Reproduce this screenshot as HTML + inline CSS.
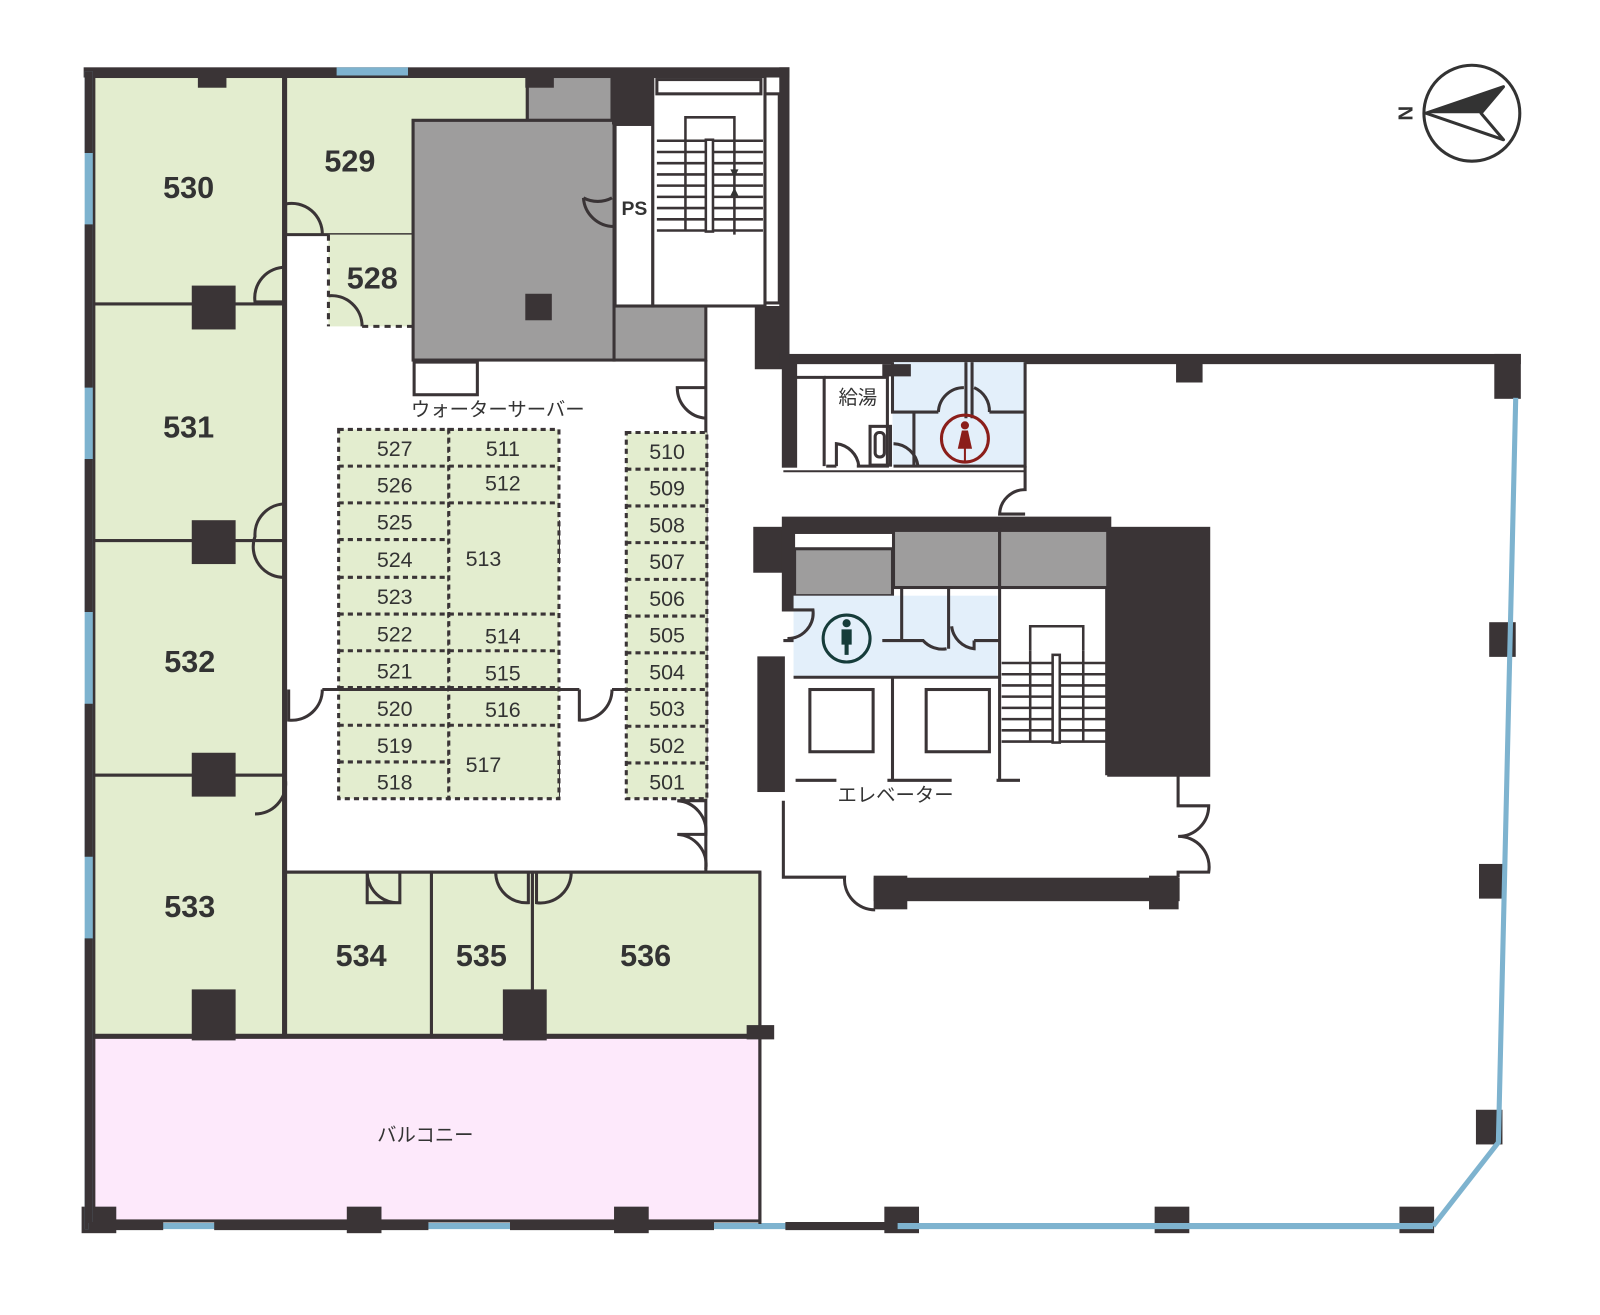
<!DOCTYPE html>
<html><head><meta charset="utf-8"><style>
html,body{margin:0;padding:0;background:#fff}
svg{display:block}
text{font-family:"Liberation Sans","Noto Sans CJK JP",sans-serif;fill:#333}
.n{font-size:30px;font-weight:bold;text-anchor:middle}
.s{font-size:21px;text-anchor:middle}
.j{font-size:19px;text-anchor:middle}
</style></head><body>
<svg width="1600" height="1315" viewBox="0 0 1600 1315" xmlns="http://www.w3.org/2000/svg">
<g transform="scale(1.02)">
<g stroke="#3a3436" stroke-width="3" fill="none">
<rect x="92" y="75" width="186" height="223" fill="#e3edcf"/>
<rect x="92" y="298" width="186" height="232" fill="#e3edcf"/>
<rect x="92" y="530" width="186" height="230" fill="#e3edcf"/>
<rect x="92" y="760" width="186" height="255" fill="#e3edcf"/>
<path d="M280 75 H517 V118 H405 V230 H280 Z" fill="#e3edcf"/>
<rect x="322" y="230" width="83" height="90" fill="#e3edcf" stroke="none"/>
<path d="M322 230 V320" stroke-dasharray="6 5"/>
<path d="M355 320 H405" stroke-dasharray="6 5"/>
<rect x="280" y="855" width="143" height="160" fill="#e3edcf"/>
<rect x="423" y="855" width="99" height="160" fill="#e3edcf"/>
<rect x="522" y="855" width="223" height="160" fill="#e3edcf"/>
<rect x="92" y="1017" width="653" height="180" fill="#fde9fb"/>
<rect x="517" y="75" width="83" height="43" fill="#9e9d9d"/>
<rect x="405" y="118" width="197" height="235" fill="#9e9d9d"/>
<rect x="602" y="300" width="90" height="53" fill="#9e9d9d"/>
<rect x="406" y="355" width="62" height="32" fill="#fff"/>
<rect x="603" y="122" width="37" height="178" fill="#fff"/>
<rect x="640" y="75" width="110" height="225" fill="#fff"/>
<rect x="644" y="78" width="102" height="14" fill="#fff"/>
<rect x="750" y="92" width="14" height="205" fill="#fff"/>
</g>
<g stroke="#3a3436" stroke-width="2.5" fill="none">
<path d="M672 138 V115 H720 V138"/>
<path d="M644 138 H748 M644 149 H748 M644 160 H748 M644 171 H748 M644 182 H748 M644 193 H748 M644 204 H748 M644 215 H748 M644 226 H748"/>
<path d="M672 138 V226 M720 138 V230"/>
<rect x="692" y="137" width="7" height="90" fill="#fff"/>
</g>
<path d="M716 166 L724 166 L720 174Z M716 192 L724 192 L720 184Z" fill="#333"/>
<g fill="#3a3436">
<rect x="600" y="72" width="40" height="50"/>
<rect x="740" y="300" width="30" height="62"/>
<rect x="82" y="66" width="692" height="10"/>
<rect x="764" y="66" width="10" height="290"/>
<rect x="764" y="347" width="727" height="10"/>
<rect x="1465" y="347" width="26" height="44"/>
<rect x="1153" y="355" width="26" height="20"/>
<rect x="194" y="72" width="28" height="14"/>
<rect x="515" y="72" width="28" height="14"/>
<rect x="188" y="280" width="43" height="43"/>
<rect x="188" y="510" width="43" height="43"/>
<rect x="188" y="738" width="43" height="43"/>
<rect x="188" y="970" width="43" height="50"/>
<rect x="493" y="970" width="43" height="50"/>
<rect x="515" y="288" width="26" height="26"/>
<rect x="505" y="510" width="44" height="43"/>
<rect x="505" y="738" width="44" height="43"/>
<rect x="732" y="1005" width="27" height="14"/>
<rect x="80" y="1183" width="34" height="26"/>
<rect x="340" y="1183" width="34" height="26"/>
<rect x="602" y="1183" width="34" height="26"/>
<rect x="867" y="1183" width="34" height="26"/>
<rect x="1132" y="1183" width="34" height="26"/>
<rect x="1372" y="1183" width="34" height="26"/>
<rect x="1460" y="610" width="26" height="34"/>
<rect x="1450" y="847" width="26" height="34"/>
<rect x="1447" y="1088" width="26" height="34"/>
</g>
<g stroke-width="8" fill="none">
<path d="M87 70 V1205" stroke="#7eb3cf"/>
<path d="M87 70 V150 M87 220 V380 M87 450 V600 M87 690 V840 M87 920 V1205" stroke="#3a3436"/>
<path d="M87 1202 H1405" stroke="#7eb3cf" stroke-width="6"/>
<path d="M87 1202 H160 M210 1202 H420 M500 1202 H700 M770 1202 H880" stroke="#3a3436"/>
<path d="M330 70 H400" stroke="#7eb3cf"/>
<path d="M1486 390 L1469 1120 L1405 1202" stroke="#7eb3cf" stroke-width="5"/>
</g>
<g stroke="#3a3436" stroke-width="3" fill="none">
<path d="M745 855 V1200"/>
<path d="M280 230 V855 H745"/>
<path d="M692 353 V855"/>
<path d="M280 230 V200 A30 30 0 0 1 316 230"/>
<path d="M280 262 A30 30 0 0 0 250 296 H280"/>
<path d="M322 290 A30 30 0 0 1 355 320"/>
<path d="M280 494 A30 30 0 0 0 250 526 A30 30 0 0 0 280 566"/>
<path d="M280 766 A30 30 0 0 1 250 798"/>
<path d="M283 676 V706 A30 30 0 0 0 316 676"/>
<path d="M568 676 V706 A30 30 0 0 0 600 676"/>
<path d="M360 855 V885 H392 V855 M360 855 A30 30 0 0 0 392 885"/>
<path d="M486 855 A30 30 0 0 0 518 885 V855 M526 855 V885 A30 30 0 0 0 560 855"/>
<path d="M600 194 A30 30 0 0 1 572 194 M572 194 A30 30 0 0 0 602 222"/>
<path d="M692 380 H664 A30 30 0 0 0 692 410"/>
<path d="M692 785 H664 A30 30 0 0 1 692 818 H664 A30 30 0 0 1 692 852"/>
</g>
<g stroke="#3a3436" stroke-width="3" fill="#e3edcf" stroke-dasharray="5 4">
<rect x="332" y="421" width="108" height="362"/>
<rect x="440" y="421" width="108" height="362"/>
<rect x="614" y="424" width="79" height="359"/>
<path d="M332 457 H548 M332 493 H548 M332 529 H440 M332 566 H440 M332 602 H548 M332 638 H548 M332 674 H548 M332 711 H548 M332 747 H440" fill="none"/>
<path d="M614 460 H693 M614 496 H693 M614 532 H693 M614 568 H693 M614 604 H693 M614 640 H693 M614 676 H693 M614 712 H693 M614 748 H693" fill="none"/>
</g>
<path d="M316 676 H568 M600 676 H614" stroke="#3a3436" stroke-width="3"/>
<g stroke="#3a3436" stroke-width="3" fill="none">
<rect x="768" y="355" width="12" height="102" fill="#3a3436"/>
<path d="M780 370 H808 V457 M808 370 V457"/>
<path d="M808 370 H870 V457 H840 M810 457 H820"/>
<path d="M820 457 V435 A25 25 0 0 1 842 457"/>
<rect x="853" y="418" width="20" height="38"/>
<rect x="858" y="424" width="9" height="24" rx="4"/>
<rect x="875" y="355" width="130" height="102" fill="#e3effa" stroke="none"/>
<path d="M875 355 V404 H896 V457 M896 404 H920 M970 404 H1005 V457 H876 M947 355 V410 M953 355 V410 M1005 355 V457"/>
<path d="M920 404 A25 25 0 0 1 945 380 M970 404 A25 25 0 0 0 955 380"/>
<path d="M876 435 A25 25 0 0 1 900 457"/>
<path d="M1005 457 V480 A25 25 0 0 0 980 504 H1005"/>
<path d="M768 462 H1005" stroke-width="2"/>
</g>
<rect x="865" y="357" width="28" height="12" fill="#3a3436"/>
<circle cx="946" cy="430" r="23" fill="none" stroke="#8b1e1a" stroke-width="3"/>
<circle cx="946" cy="417" r="4" fill="#8b1e1a"/>
<path d="M943 422 H949 L953 440 H939Z M945 440 V452 H947 V440Z" fill="#8b1e1a"/>
<g stroke="#3a3436" stroke-width="3">
<rect x="768" y="508" width="320" height="14" fill="#3a3436"/>
<rect x="740" y="518" width="28" height="42" fill="#3a3436"/>
<rect x="744" y="645" width="24" height="130" fill="#3a3436"/>
<rect x="768" y="518" width="10" height="80" fill="#3a3436"/>
<rect x="1087" y="518" width="98" height="242" fill="#3a3436"/>
<rect x="779" y="538" width="96" height="46" fill="#9e9d9d"/>
<rect x="876" y="520" width="104" height="56" fill="#9e9d9d"/>
<rect x="980" y="520" width="106" height="56" fill="#9e9d9d"/>
<rect x="778" y="584" width="200" height="80" fill="#e3effa" stroke="none"/>
<path d="M778 664 H980 V576 M884 576 V628 H865 M930 576 V636 M884 628 H905 A25 25 0 0 0 928 636 M955 628 H980 M955 628 V636 A25 25 0 0 1 933 614" fill="none"/>
<path d="M768 598 H778 M768 628 H778 M770 598 H797 A25 25 0 0 1 772 626" fill="none"/>
<rect x="794" y="676" width="62" height="61" fill="#fff"/>
<rect x="908" y="676" width="62" height="61" fill="#fff"/>
<path d="M875 664 V765 M780 765 H820 M870 765 H933 M977 765 H1000 M980 664 V765 M1085 576 V760" fill="none"/>
<path d="M768 785 V860 H828 A30 30 0 0 0 858 892 M1155 760 V790 H1185 A30 30 0 0 1 1155 820 A30 30 0 0 1 1185 855 H1155 V860" fill="none"/>
<rect x="858" y="862" width="297" height="20" fill="#3a3436"/>
<rect x="858" y="860" width="30" height="30" fill="#3a3436"/>
<rect x="1128" y="860" width="26" height="30" fill="#3a3436"/>
</g>
<g stroke="#3a3436" stroke-width="2.5" fill="none">
<path d="M1010 638 V614 H1062 V638"/>
<path d="M982 650 H1085 M982 661 H1085 M982 672 H1085 M982 683 H1085 M982 694 H1085 M982 705 H1085 M982 716 H1085 M982 727 H1085"/>
<path d="M1010 638 V727 M1062 638 V727"/>
<rect x="1032" y="642" width="7" height="86" fill="#fff"/>
</g>
<circle cx="830" cy="626" r="23" fill="none" stroke="#163c3a" stroke-width="3"/>
<circle cx="830" cy="611" r="4" fill="#163c3a"/>
<path d="M825 617 H835 V632 H832 V642 H828 V632 H825Z" fill="#163c3a"/>
<circle cx="1443" cy="111" r="47" fill="none" stroke="#333" stroke-width="3"/>
<path d="M1398 111 L1474 85 L1452 111 L1474 137 Z" fill="none" stroke="#333" stroke-width="3" stroke-linejoin="round"/>
<path d="M1398 111 L1474 85 L1452 111 Z" fill="#333"/>
<text x="1378" y="111" style="font-size:20px;font-weight:bold" transform="rotate(90 1378 111)" text-anchor="middle" dy="7">N</text>
<text class="n" x="185" y="194">530</text>
<text class="n" x="343" y="168">529</text>
<text class="n" x="365" y="283">528</text>
<text class="n" x="185" y="429">531</text>
<text class="n" x="186" y="659">532</text>
<text class="n" x="186" y="899">533</text>
<text class="n" x="354" y="947">534</text>
<text class="n" x="472" y="947">535</text>
<text class="n" x="633" y="947">536</text>
<text x="622" y="211" style="font-size:19px;font-weight:bold" text-anchor="middle">PS</text>
<text class="j" x="488" y="408">ウォーターサーバー</text>
<text class="j" x="841" y="396">給湯</text>
<text class="j" x="878" y="786">エレベーター</text>
<text class="j" x="417" y="1119">バルコニー</text>
<text class="s" x="387" y="447">527</text><text class="s" x="493" y="447">511</text>
<text class="s" x="387" y="483">526</text><text class="s" x="493" y="481">512</text>
<text class="s" x="387" y="519">525</text>
<text class="s" x="387" y="556">524</text><text class="s" x="474" y="555">513</text>
<text class="s" x="387" y="592">523</text>
<text class="s" x="387" y="629">522</text><text class="s" x="493" y="631">514</text>
<text class="s" x="387" y="665">521</text><text class="s" x="493" y="667">515</text>
<text class="s" x="387" y="702">520</text><text class="s" x="493" y="703">516</text>
<text class="s" x="387" y="738">519</text><text class="s" x="474" y="757">517</text>
<text class="s" x="387" y="774">518</text>
<text class="s" x="654" y="450">510</text><text class="s" x="654" y="486">509</text>
<text class="s" x="654" y="522">508</text><text class="s" x="654" y="558">507</text>
<text class="s" x="654" y="594">506</text><text class="s" x="654" y="630">505</text>
<text class="s" x="654" y="666">504</text><text class="s" x="654" y="702">503</text>
<text class="s" x="654" y="738">502</text><text class="s" x="654" y="774">501</text>
</g>
</svg>
</body></html>
